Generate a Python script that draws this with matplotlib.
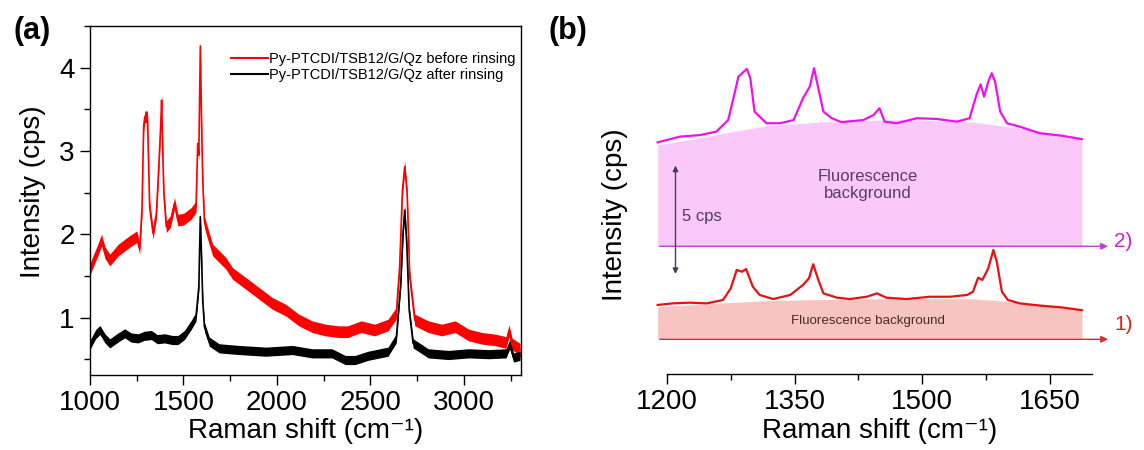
import numpy as np
import matplotlib
matplotlib.use("Agg")
import matplotlib.pyplot as plt
from matplotlib.lines import Line2D
from matplotlib.ticker import MultipleLocator

plt.rcParams['font.family'] = ['Liberation Sans', 'DejaVu Sans']

# panel (a): full spectra
wn_before = np.array([1000, 1005, 1040, 1062, 1080, 1106, 1151, 1204, 1250, 1266, 1278, 1287, 1293, 1307,
                      1313, 1319, 1337, 1355, 1367, 1378, 1383, 1389, 1395, 1408, 1430, 1452, 1470, 1500,
                      1541, 1567, 1576, 1582, 1590, 1597, 1603, 1612, 1624, 1656, 1727, 1762, 1833, 1904,
                      1975, 2046, 2117, 2188, 2259, 2330, 2378, 2450, 2522, 2594, 2638, 2656, 2671, 2683,
                      2696, 2710, 2737, 2809, 2881, 2953, 3025, 3097, 3169, 3225, 3241, 3258, 3300])
int_before = np.array([1.55, 1.61, 1.80, 1.93, 1.78, 1.69, 1.81, 1.90, 1.97, 1.83, 2.30, 3.30, 3.41, 3.41,
                       2.90, 2.33, 2.01, 2.25, 2.77, 3.30, 3.61, 3.00, 2.49, 2.09, 2.15, 2.37, 2.17, 2.18,
                       2.25, 2.33, 3.09, 2.95, 4.26, 3.30, 2.65, 2.15, 2.05, 1.81, 1.65, 1.53, 1.41, 1.29,
                       1.17, 1.09, 0.97, 0.89, 0.85, 0.83, 0.83, 0.89, 0.85, 0.91, 1.05, 1.61, 2.53, 2.81,
                       2.49, 1.49, 0.97, 0.89, 0.85, 0.89, 0.79, 0.75, 0.73, 0.70, 0.84, 0.68, 0.62])

wn_after = np.array([1000, 1030, 1053, 1080, 1106, 1150, 1186, 1220, 1257, 1290, 1328, 1360, 1399, 1440,
                     1470, 1505, 1541, 1567, 1582, 1590, 1597, 1603, 1612, 1638, 1691, 1798, 1940, 2082,
                     2188, 2294, 2365, 2418, 2486, 2594, 2638, 2662, 2674, 2683, 2694, 2707, 2728, 2809,
                     2917, 3025, 3133, 3225, 3245, 3265, 3300])
int_after = np.array([0.67, 0.80, 0.85, 0.75, 0.69, 0.76, 0.81, 0.76, 0.75, 0.78, 0.79, 0.74, 0.75, 0.73,
                      0.73, 0.79, 0.91, 1.01, 1.37, 2.21, 1.69, 1.20, 0.89, 0.71, 0.63, 0.61, 0.59, 0.61,
                      0.57, 0.57, 0.49, 0.49, 0.54, 0.59, 0.75, 1.41, 2.01, 2.29, 1.89, 1.09, 0.69, 0.57,
                      0.55, 0.57, 0.56, 0.57, 0.68, 0.52, 0.54])

labels_a = ['Py-PTCDI/TSB12/G/Qz before rinsing', 'Py-PTCDI/TSB12/G/Qz after rinsing']

# panel (b): zoomed spectra, offset (cps)
wn_1 = np.array([1189, 1207, 1227, 1247, 1266, 1275, 1282, 1288, 1293, 1301, 1309, 1325, 1345, 1360,
                 1367, 1372, 1378, 1384, 1400, 1415, 1435, 1447, 1458, 1482, 1509, 1533, 1553, 1560,
                 1566, 1571, 1578, 1584, 1588, 1594, 1601, 1615, 1639, 1665, 1688])
int_1 = np.array([1.51, 1.58, 1.61, 1.58, 1.73, 2.24, 3.05, 2.97, 3.09, 2.31, 1.95, 1.77, 1.95, 2.39,
                  2.68, 3.30, 2.61, 2.02, 1.83, 1.77, 1.87, 2.02, 1.83, 1.77, 1.87, 1.87, 1.95, 2.09,
                  2.71, 2.61, 3.12, 3.93, 3.41, 2.09, 1.73, 1.58, 1.48, 1.40, 1.28])

wn_2 = np.array([1189, 1215, 1239, 1258, 1272, 1280, 1284, 1294, 1298, 1303, 1317, 1333, 1349, 1360,
                 1368, 1373, 1378, 1384, 1394, 1405, 1431, 1443, 1450, 1456, 1470, 1494, 1517, 1541,
                 1556, 1564, 1569, 1573, 1578, 1582, 1586, 1592, 1600, 1615, 1627, 1639, 1665, 1688])
int_2 = np.array([8.66, 8.91, 8.98, 9.13, 9.64, 10.89, 11.55, 11.89, 11.48, 10.01, 9.50, 9.50, 9.64, 10.60,
                  11.11, 11.92, 11.04, 10.01, 9.72, 9.55, 9.64, 9.86, 10.16, 9.57, 9.50, 9.72, 9.69, 9.57,
                  9.72, 10.74, 11.21, 10.67, 11.33, 11.70, 11.33, 10.01, 9.50, 9.35, 9.20, 9.06, 8.95, 8.80])

bg_x = np.array([1189, 1230, 1266, 1320, 1400, 1480, 1560, 1640, 1688])
bg_1 = np.array([1.43, 1.52, 1.60, 1.70, 1.76, 1.80, 1.78, 1.55, 1.30])
bg_2 = np.array([8.55, 8.80, 9.06, 9.40, 9.60, 9.66, 9.55, 9.15, 8.78])
base_1 = 0.0
base_2 = 4.09

xlabel = 'Raman shift (cm\u207b\u00b9)'

fig = plt.figure(figsize=(11.44, 4.5), dpi=100)

# ---- (a)
ax = fig.add_axes([90/1144, 1-375/450, 431/1144, 349/450])
ax.fill_between(wn_before, int_before-0.07, int_before+0.07, color='#ff0000', lw=0)
ax.plot(wn_before, int_before, color='#ff0000', lw=1.2)
ax.fill_between(wn_after, int_after-0.055, int_after+0.055, color='black', lw=0)
ax.plot(wn_after, int_after, color='black', lw=1.2)
ax.set_xlim(1000, 3305)
ax.set_ylim(0.31, 4.5)
ax.xaxis.set_major_locator(MultipleLocator(500))
ax.xaxis.set_minor_locator(MultipleLocator(250))
ax.yaxis.set_major_locator(MultipleLocator(1))
ax.yaxis.set_minor_locator(MultipleLocator(0.5))
ax.tick_params(which='major', length=7, width=1, labelsize=20, pad=4)
ax.tick_params(which='minor', length=4, width=1)
for s in ax.spines.values():
    s.set_linewidth(1)
handles = [Line2D([], [], color='#ff0000', lw=1.5), Line2D([], [], color='black', lw=1.5)]
ax.legend(handles, labels_a, loc='upper right', bbox_to_anchor=(0.988, 0.925), frameon=False,
          fontsize=10.5, handlelength=2.5, handletextpad=0.1, labelspacing=0.1,
          borderpad=0, borderaxespad=0)
fig.text(33/1144, 1-192/450, 'Intensity (cps)', rotation=90, ha='center', va='center', fontsize=20)
fig.text(305.5/1144, 1-431/450, xlabel, ha='center', va='center', fontsize=20)
fig.text(32/1144, 1-31/450, '(a)', ha='center', va='center', fontsize=22, fontweight='bold')

# ---- (b)
bx = fig.add_axes([624.5/1144, 1-374/450, 518.5/1144, 334/450])
bx.fill_between(bg_x, base_2, bg_2, color='#fbc8fb', lw=0)
bx.fill_between(bg_x, base_1 + 0.05, bg_1, color='#f8c4c2', lw=0)
bx.plot(wn_2, int_2, color='#ee11ee', lw=1.6)
bx.plot(wn_1, int_1, color='#e81010', lw=1.6)
bx.annotate('', xy=(1722, base_2), xytext=(1188, base_2),
            arrowprops=dict(arrowstyle='-|>', color='#c040d0', lw=1, mutation_scale=10))
bx.annotate('', xy=(1722, base_1), xytext=(1188, base_1),
            arrowprops=dict(arrowstyle='-|>', color='#e02828', lw=1, mutation_scale=10))
bx.annotate('', xy=(1210, 7.76), xytext=(1210, 2.75),
            arrowprops=dict(arrowstyle='<|-|>', color='#4a3a55', lw=1, mutation_scale=8))
bx.text(1726, 4.28, '2)', color='#d020d0', fontsize=15, va='center')
bx.text(1726, 0.67, '1)', color='#e02020', fontsize=15, va='center')
bx.text(1218, 5.4, '5 cps', color='#4d3d5c', fontsize=12, va='center')
bx.text(1436, 6.79, 'Fluorescence\nbackground', color='#5a3a6a', fontsize=12,
        ha='center', va='center', linespacing=1.2)
bx.text(1436, 0.8, 'Fluorescence background', color='#4a2a2a', fontsize=9.6,
        ha='center', va='center')
bx.set_xlim(1150, 1760)
bx.set_ylim(-1.526, 13.16)
for side in ['left', 'right', 'top']:
    bx.spines[side].set_visible(False)
bx.spines['bottom'].set_bounds(1200, 1700)
bx.spines['bottom'].set_linewidth(1)
bx.set_yticks([])
bx.set_xticks([1200, 1350, 1500, 1650])
bx.set_xticks([1275, 1425, 1575], minor=True)
bx.tick_params(which='major', length=7, width=1, labelsize=20, pad=4)
bx.tick_params(which='minor', length=4, width=1)
bx.patch.set_alpha(0)
fig.text(614.5/1144, 1-215/450, 'Intensity (cps)', rotation=90, ha='center', va='center', fontsize=20)
fig.text(880/1144, 1-431/450, xlabel, ha='center', va='center', fontsize=20)
fig.text(568/1144, 1-31/450, '(b)', ha='center', va='center', fontsize=22, fontweight='bold')

fig.savefig('out.png', dpi=100)
